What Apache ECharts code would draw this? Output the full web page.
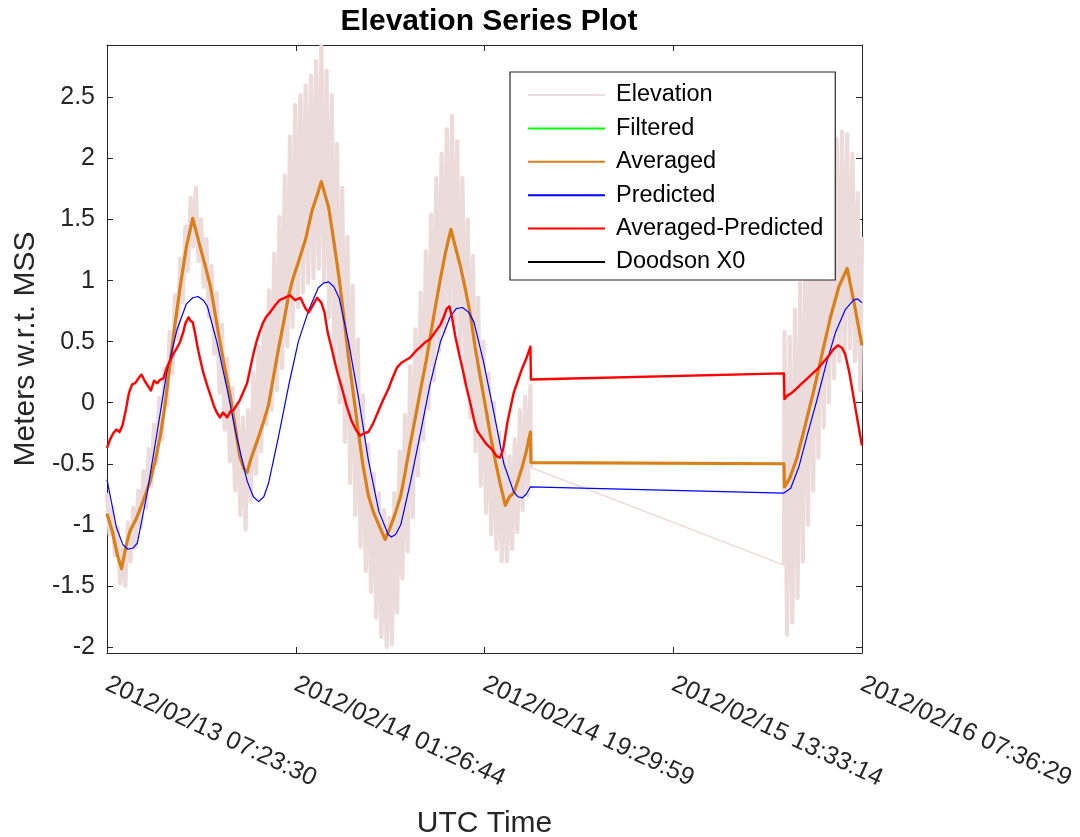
<!DOCTYPE html>
<html><head><meta charset="utf-8">
<script src="https://cdn.jsdelivr.net/npm/echarts@6/dist/echarts.min.js"></script>
<style>html,body{margin:0;padding:0;background:#fff}#c{width:1080px;height:837px}</style>
</head><body><div id="c"></div>
<script>
// ---- data (x in hours since 2012/02/13 07:23:30 UTC) ----
const xTickLabels = ['2012/02/13 07:23:30','2012/02/14 01:26:44','2012/02/14 19:29:59','2012/02/15 13:33:14','2012/02/16 07:36:29'];
const xSpanHours = 72.21639;
const yTickValues = [-2,-1.5,-1,-0.5,0,0.5,1,1.5,2,2.5];
const yMin = -2.05, yMax = 2.93;
const seriesNames = ['Elevation','Filtered','Averaged','Predicted','Averaged-Predicted','Doodson X0'];

const elevation = [
[0,-0.74],[0.25,-1.08],[0.5,-0.86],[0.75,-1.25],[1,-1.02],[1.25,-1.48],[1.5,-1.18],[1.75,-1.5],[2,-0.98],[2.25,-1.3],
[2.5,-0.86],[2.75,-1.18],[3,-0.72],[3.25,-1.02],[3.5,-0.56],[3.75,-0.86],[4,-0.38],[4.25,-0.68],[4.5,-0.18],[4.75,-0.5],
[5,0.04],[5.25,-0.3],[5.5,0.28],[5.75,-0.02],[6,0.58],[6.25,0.24],[6.5,0.88],[6.75,0.52],[7,1.18],[7.25,0.82],
[7.5,1.44],[7.75,1.08],[8,1.68],[8.25,1.28],[8.5,1.76],[8.75,1.16],[9,1.5],[9.25,0.95],[9.5,1.34],[9.75,0.7],
[10,1.12],[10.25,0.4],[10.5,0.9],[10.75,0.08],[11,0.64],[11.25,-0.22],[11.5,0.36],[11.75,-0.48],[12,0.12],[12.25,-0.72],
[12.5,-0.04],[12.75,-0.92],[13,-0.12],[13.25,-1.04],[13.5,-0.06],[13.75,-0.8],[14,0.24],[14.25,-0.58],[14.5,0.46],[14.75,-0.4],
[15,0.66],[15.25,-0.18],[15.5,0.92],[15.75,-0.06],[16,1.22],[16.25,0.1],[16.5,1.52],[16.75,0.28],[17,1.86],[17.25,0.46],
[17.5,2.18],[17.75,0.62],[18,2.44],[18.25,0.78],[18.5,2.52],[18.75,0.9],[19,2.6],[19.25,0.98],[19.5,2.68],[19.75,1.02],
[20,2.8],[20.25,1.1],[20.5,2.92],[20.75,1.0],[21,2.72],[21.25,0.7],[21.5,2.52],[21.75,0.32],[22,2.12],[22.25,0.0],
[22.5,1.76],[22.75,-0.32],[23,1.36],[23.25,-0.66],[23.5,0.96],[23.75,-0.92],[24,0.52],[24.25,-1.18],[24.5,0.06],[24.75,-1.38],
[25,-0.34],[25.25,-1.55],[25.5,-0.58],[25.75,-1.76],[26,-0.74],[26.25,-1.92],[26.5,-0.88],[26.75,-2.0],[27,-0.94],[27.25,-1.98],
[27.5,-0.74],[27.75,-1.72],[28,-0.4],[28.25,-1.44],[28.5,-0.1],[28.75,-1.22],[29,0.3],[29.25,-0.94],[29.5,0.6],[29.75,-0.6],
[30,0.9],[30.25,-0.3],[30.5,1.24],[30.75,-0.05],[31,1.54],[31.25,0.18],[31.5,1.84],[31.75,0.42],[32,2.04],[32.25,0.58],
[32.5,2.24],[32.75,0.68],[33,2.35],[33.25,0.62],[33.5,2.14],[33.75,0.42],[34,1.84],[34.25,0.16],[34.5,1.5],[34.75,-0.12],
[35,1.2],[35.25,-0.4],[35.5,0.86],[35.75,-0.68],[36,0.5],[36.25,-0.9],[36.5,0.24],[36.75,-1.08],[37,0.0],[37.25,-1.2],
[37.5,-0.24],[37.75,-1.3],[38,-0.4],[38.25,-1.3],[38.5,-0.44],[38.75,-1.2],[39,-0.3],[39.25,-1.06],[39.5,-0.06],[39.75,-0.88],
[40,0.05],[40.25,-0.76],[40.5,0.14],[40.55,-0.53],
[64.75,-1.33],
[64.8,0.58],[65.05,-1.9],[65.3,0.54],[65.55,-1.8],[65.8,0.76],[66.05,-1.6],[66.3,0.98],[66.55,-1.3],[66.8,1.2],[67.05,-1.0],
[67.3,1.42],[67.55,-0.72],[67.8,1.58],[68.05,-0.45],[68.3,1.74],[68.55,-0.2],[68.8,1.88],[69.05,0.0],[69.3,2.04],[69.55,0.2],
[69.8,2.16],[70.05,0.34],[70.3,2.22],[70.55,0.4],[70.8,2.2],[71.05,0.44],[71.3,2.04],[71.55,0.34],[71.8,1.72],[72.05,0.1],[72.21,1.36]
];
const filtered = [];
const averaged = [
[0,-0.91],[0.5,-1.05],[1.0,-1.25],[1.4,-1.36],[1.8,-1.18],[2.2,-1.05],[2.8,-0.95],[3.4,-0.82],[4.1,-0.65],[4.6,-0.48],
[5.1,-0.27],[5.5,-0.05],[6.0,0.3],[6.5,0.64],[7.0,0.95],[7.6,1.28],[8.2,1.51],[8.9,1.28],[9.4,1.12],[9.9,0.95],
[10.4,0.7],[10.8,0.5],[11.3,0.27],[11.8,0.05],[12.3,-0.22],[12.7,-0.44],[13.1,-0.54],[13.4,-0.57],[13.8,-0.45],[14.5,-0.28],
[15.0,-0.15],[15.45,-0.02],[15.9,0.2],[16.4,0.44],[16.9,0.66],[17.4,0.89],[17.8,1.02],[18.3,1.15],[19.0,1.34],[19.6,1.57],
[20.1,1.7],[20.5,1.81],[21.2,1.6],[21.7,1.32],[22.2,1.02],[22.6,0.74],[23.1,0.37],[23.6,0.05],[24.1,-0.28],[24.5,-0.52],
[25.0,-0.76],[25.5,-0.9],[26.0,-1.0],[26.6,-1.12],[27.1,-1.02],[27.6,-0.9],[28.1,-0.76],[28.5,-0.58],[29.0,-0.34],[29.5,-0.12],
[30.0,0.11],[30.5,0.33],[30.9,0.53],[31.4,0.78],[31.9,1.02],[32.4,1.24],[32.9,1.42],[33.4,1.25],[33.8,1.12],[34.3,0.92],
[34.8,0.7],[35.2,0.46],[35.7,0.21],[36.2,-0.03],[36.7,-0.28],[37.2,-0.5],[37.6,-0.66],[38.1,-0.84],[38.5,-0.77],[38.9,-0.74],
[39.3,-0.64],[39.7,-0.53],[40.1,-0.4],[40.5,-0.24],[40.55,-0.49],[64.75,-0.5],[64.8,-0.69],[65.3,-0.62],[66.0,-0.45],[66.8,-0.18],
[67.6,0.1],[68.4,0.4],[69.2,0.7],[70.0,0.95],[70.8,1.1],[71.5,0.8],[72.21,0.47]
];
const predicted = [
[0,-0.63],[0.9,-1.02],[1.5,-1.16],[2.0,-1.2],[2.5,-1.19],[2.9,-1.15],[3.8,-0.76],[4.8,-0.24],[5.7,0.24],[6.7,0.6],[7.6,0.81],[8.2,0.86],[8.7,0.87],
[9.2,0.84],[9.6,0.79],[10.5,0.5],[11.5,0.11],[12.4,-0.28],[13.4,-0.64],[14.0,-0.77],[14.5,-0.81],[15.0,-0.77],[15.45,-0.66],[16.4,-0.28],[17.4,0.15],[18.3,0.5],
[19.3,0.76],[20.2,0.94],[20.7,0.98],[21.2,0.99],[21.7,0.95],[22.2,0.86],[23.1,0.5],[24.1,0.02],[25.0,-0.47],[26.0,-0.89],[26.9,-1.08],[27.2,-1.1],[27.6,-1.08],
[28.1,-1.0],[29.0,-0.66],[30.0,-0.24],[30.9,0.15],[31.9,0.5],[32.8,0.7],[33.4,0.77],[34.0,0.78],[34.6,0.74],[35.1,0.66],[36.0,0.34],[37.0,-0.08],
[37.96,-0.5],[38.9,-0.73],[39.3,-0.77],[39.7,-0.78],[40.1,-0.75],[40.5,-0.69],[64.75,-0.74],[65.4,-0.7],[66.2,-0.52],[67.0,-0.26],[67.9,0.02],[68.8,0.32],
[69.7,0.58],[70.6,0.76],[71.4,0.84],[71.8,0.85],[72.21,0.82]
];
const avgMinusPred = [
[0,-0.37],[0.3,-0.3],[0.6,-0.25],[0.9,-0.22],[1.2,-0.24],[1.5,-0.18],[1.8,-0.06],[2.1,0.08],[2.4,0.15],[2.7,0.16],
[3.0,0.2],[3.3,0.23],[3.6,0.18],[3.9,0.14],[4.2,0.1],[4.5,0.18],[4.8,0.16],[5.1,0.19],[5.4,0.2],[5.7,0.28],
[6.0,0.34],[6.35,0.4],[6.7,0.45],[7.0,0.5],[7.3,0.58],[7.5,0.65],[7.8,0.7],[8.0,0.67],[8.2,0.66],[8.4,0.58],
[8.65,0.46],[8.9,0.36],[9.2,0.25],[9.55,0.15],[9.9,0.06],[10.2,-0.02],[10.5,-0.08],[10.8,-0.12],[11.1,-0.08],[11.5,-0.12],
[11.8,-0.07],[12.1,-0.06],[12.4,-0.02],[12.7,0.02],[13.0,0.08],[13.4,0.16],[13.7,0.28],[14.0,0.4],[14.3,0.5],[14.6,0.58],
[14.9,0.65],[15.2,0.7],[15.6,0.74],[16.1,0.8],[16.5,0.84],[17.0,0.86],[17.5,0.88],[18.0,0.84],[18.5,0.86],[19.0,0.77],
[19.3,0.74],[19.7,0.8],[20.1,0.86],[20.5,0.82],[20.8,0.74],[21.1,0.58],[21.5,0.44],[22.0,0.26],[22.5,0.11],[22.9,-0.02],
[23.4,-0.15],[23.8,-0.22],[24.2,-0.27],[24.6,-0.25],[25.0,-0.24],[25.4,-0.18],[25.7,-0.12],[26.0,-0.06],[26.4,0.02],[26.9,0.11],
[27.3,0.2],[27.75,0.29],[28.2,0.33],[28.6,0.35],[29.0,0.37],[29.5,0.42],[30.0,0.46],[30.5,0.5],[30.9,0.52],[31.4,0.58],
[31.9,0.64],[32.2,0.7],[32.5,0.77],[32.75,0.79],[33.0,0.7],[33.3,0.55],[33.6,0.43],[34.0,0.28],[34.4,0.12],[34.8,-0.02],
[35.1,-0.14],[35.4,-0.23],[35.8,-0.28],[36.3,-0.34],[36.8,-0.38],[37.3,-0.44],[37.6,-0.45],[37.9,-0.38],[38.3,-0.16],[38.6,-0.04],
[38.9,0.08],[39.3,0.18],[39.7,0.28],[40.1,0.36],[40.5,0.46],[40.55,0.19],[64.75,0.24],[64.8,0.03],[65.1,0.06],[65.5,0.08],
[66.0,0.12],[66.5,0.16],[67.0,0.2],[67.5,0.24],[68.0,0.28],[68.5,0.33],[69.0,0.38],[69.4,0.43],[69.9,0.47],[70.3,0.45],
[70.6,0.4],[71.0,0.25],[71.4,0.05],[71.8,-0.15],[72.21,-0.35]
];
const doodsonX0 = [];

// ---- chart ----
const FONT = "'Liberation Sans', Arial, Helvetica, sans-serif";
const AX = '#262626';
const PINK = '#ecdbdb';
const xInterval = xSpanHours / 4;
const xMax = xInterval * 4;
const chart = echarts.init(document.getElementById('c'), null, {renderer: 'canvas'});

function line(name, data, color, width, z) {
  return {name, type: 'line', data, symbol: 'none', showSymbol: false, clip: true, z,
    lineStyle: {color, width, join: 'round'}, itemStyle: {color}, animation: false, emphasis: {disabled: true}};
}

// split the dense elevation record into its continuous recording runs (gaps > 1 h)
const elevRuns = [];
elevation.forEach((p, i) => {
  if (i === 0 || p[0] - elevation[i - 1][0] > 1) elevRuns.push([]);
  elevRuns[elevRuns.length - 1].push(p);
});

const xBase = {type: 'value', min: 0, max: xMax, interval: xInterval,
  axisLine: {show: true, onZero: false, lineStyle: {color: AX, width: 1}},
  axisTick: {show: true, inside: true, length: 6, lineStyle: {color: AX}},
  splitLine: {show: false}};
const yBase = {type: 'value', min: yMin, max: yMax,
  axisLine: {show: true, onZero: false, lineStyle: {color: AX, width: 1}},
  axisTick: {show: true, inside: true, length: 6, lineStyle: {color: AX}, customValues: yTickValues},
  splitLine: {show: false}};

chart.setOption({
  animation: false,
  backgroundColor: '#fff',
  title: {text: 'Elevation Series Plot', left: 484, top: 2, textAlign: 'center',
    textStyle: {fontFamily: FONT, fontSize: 30, fontWeight: 'bold', color: '#000'}},
  grid: {left: 107, top: 45, width: 755, height: 608, containLabel: false, outerBoundsMode: 'none'},
  legend: {
    orient: 'vertical', left: 510, top: 72, data: seriesNames,
    itemWidth: 77, itemHeight: 14, itemGap: 9.4,
    padding: [11, 12, 6, 17],
    backgroundColor: '#fff', borderColor: AX, borderWidth: 1.2,
    itemStyle: {opacity: 0},
    textStyle: {fontFamily: FONT, fontSize: 23.5, color: '#000', lineHeight: 24, padding: [0, 0, 0, 6]},
    selectedMode: false
  },
  xAxis: [
    Object.assign({}, xBase, {position: 'bottom',
      name: 'UTC Time', nameLocation: 'middle', nameGap: 156,
      nameTextStyle: {fontFamily: FONT, fontSize: 30, color: AX},
      axisLabel: {show: true, rotate: -25, margin: 30, color: AX, fontFamily: FONT, fontSize: 25,
        formatter: v => xTickLabels[Math.round(v / xInterval)] || ''}}),
    Object.assign({}, xBase, {position: 'top', axisLabel: {show: false}})
  ],
  yAxis: [
    Object.assign({}, yBase, {position: 'left',
      name: 'Meters w.r.t. MSS', nameLocation: 'middle', nameGap: 56,
      nameTextStyle: {fontFamily: FONT, fontSize: 30, color: AX},
      axisLabel: {show: true, margin: 12, color: AX, fontFamily: FONT, fontSize: 25,
        customValues: yTickValues, formatter: v => String(v)}}),
    Object.assign({}, yBase, {position: 'right', axisLabel: {show: false}})
  ],
  series: [
    line(seriesNames[0], elevation, PINK, 1.5, 1),
    ...elevRuns.map(run => line(seriesNames[0], run, PINK, 4.2, 1)),
    line(seriesNames[1], filtered, '#00ff00', 1.5, 2),
    line(seriesNames[2], averaged, '#d9801a', 3.2, 3),
    line(seriesNames[3], predicted, '#0000ff', 1.2, 4),
    line(seriesNames[4], avgMinusPred, '#ff0000', 2.4, 5),
    line(seriesNames[5], doodsonX0, '#000000', 1.5, 6)
  ]
});
</script>
</body></html>
